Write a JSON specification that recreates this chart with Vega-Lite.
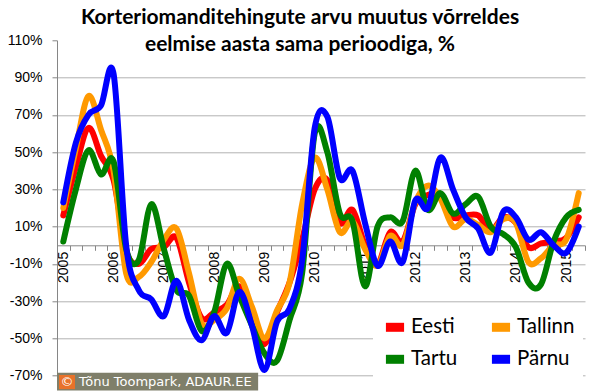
{
  "$schema": "https://vega.github.io/schema/vega-lite/v6.json",
  "width": 528,
  "height": 335.4,
  "autosize": {"type": "none"},
  "padding": {"left": 57, "top": 40.3, "right": 15, "bottom": 16.3},
  "background": "white",
  "title": {
    "text": ["Korteriomanditehingute arvu muutus võrreldes", "eelmise aasta sama perioodiga, %"],
    "font": "Lato",
    "fontSize": 21,
    "fontWeight": "bold",
    "color": "black",
    "anchor": "middle",
    "frame": "group",
    "lineHeight": 27,
    "offset": -22,
    "dx": -21
  },
  "config": {"view": {"stroke": null}},
  "resolve": {"axis": {"x": "independent", "y": "independent"}},
  "datasets": {
    "wide": [
      {"i": 0, "q": "2005 Q1", "Eesti": 16, "Tallinn": 20, "Tartu": 2, "Pärnu": 23},
      {"i": 1, "q": "2005 Q2", "Eesti": 42, "Tallinn": 52, "Tartu": 30, "Pärnu": 55},
      {"i": 2, "q": "2005 Q3", "Eesti": 63, "Tallinn": 80, "Tartu": 51, "Pärnu": 70},
      {"i": 3, "q": "2005 Q4", "Eesti": 48, "Tallinn": 62, "Tartu": 38, "Pärnu": 75},
      {"i": 4, "q": "2006 Q1", "Eesti": 35, "Tallinn": 40, "Tartu": 45, "Pärnu": 92},
      {"i": 5, "q": "2006 Q2", "Eesti": -3, "Tallinn": -15, "Tartu": -2, "Pärnu": 0},
      {"i": 6, "q": "2006 Q3", "Eesti": -10, "Tallinn": -17, "Tartu": -8, "Pärnu": -24},
      {"i": 7, "q": "2006 Q4", "Eesti": -2, "Tallinn": -9, "Tartu": 22, "Pärnu": -29},
      {"i": 8, "q": "2007 Q1", "Eesti": -1, "Tallinn": 3, "Tartu": -2, "Pärnu": -38},
      {"i": 9, "q": "2007 Q2", "Eesti": 4, "Tallinn": 9, "Tartu": -24, "Pärnu": -19},
      {"i": 10, "q": "2007 Q3", "Eesti": -20, "Tallinn": -15, "Tartu": -27, "Pärnu": -40},
      {"i": 11, "q": "2007 Q4", "Eesti": -39, "Tallinn": -42, "Tartu": -46, "Pärnu": -51},
      {"i": 12, "q": "2008 Q1", "Eesti": -36, "Tallinn": -40, "Tartu": -36, "Pärnu": -38},
      {"i": 13, "q": "2008 Q2", "Eesti": -32, "Tallinn": -34, "Tartu": -10, "Pärnu": -47},
      {"i": 14, "q": "2008 Q3", "Eesti": -22, "Tallinn": -18, "Tartu": -27, "Pärnu": -25},
      {"i": 15, "q": "2008 Q4", "Eesti": -40, "Tallinn": -33, "Tartu": -43, "Pärnu": -43},
      {"i": 16, "q": "2009 Q1", "Eesti": -53, "Tallinn": -50, "Tartu": -58, "Pärnu": -67},
      {"i": 17, "q": "2009 Q2", "Eesti": -36, "Tallinn": -35, "Tartu": -62, "Pärnu": -41},
      {"i": 18, "q": "2009 Q3", "Eesti": -20, "Tallinn": -20, "Tartu": -40, "Pärnu": -34},
      {"i": 19, "q": "2009 Q4", "Eesti": 3, "Tallinn": 22, "Tartu": -15, "Pärnu": -8},
      {"i": 20, "q": "2010 Q1", "Eesti": 30, "Tallinn": 47, "Tartu": 60, "Pärnu": 63},
      {"i": 21, "q": "2010 Q2", "Eesti": 35, "Tallinn": 30, "Tartu": 50, "Pärnu": 69},
      {"i": 22, "q": "2010 Q3", "Eesti": 12, "Tallinn": 7, "Tartu": 17, "Pärnu": 36},
      {"i": 23, "q": "2010 Q4", "Eesti": 19, "Tallinn": 13, "Tartu": 13, "Pärnu": 40},
      {"i": 24, "q": "2011 Q1", "Eesti": 0, "Tallinn": -2, "Tartu": -22, "Pärnu": 12},
      {"i": 25, "q": "2011 Q2", "Eesti": -10, "Tallinn": -11, "Tartu": 10, "Pärnu": -11},
      {"i": 26, "q": "2011 Q3", "Eesti": 7, "Tallinn": 5, "Tartu": 15, "Pärnu": 2},
      {"i": 27, "q": "2011 Q4", "Eesti": 2, "Tallinn": 0, "Tartu": 13, "Pärnu": -9},
      {"i": 28, "q": "2012 Q1", "Eesti": 22, "Tallinn": 23, "Tartu": 40, "Pärnu": 24},
      {"i": 29, "q": "2012 Q2", "Eesti": 27, "Tallinn": 32, "Tartu": 19, "Pärnu": 20},
      {"i": 30, "q": "2012 Q3", "Eesti": 27, "Tallinn": 25, "Tartu": 28, "Pärnu": 47},
      {"i": 31, "q": "2012 Q4", "Eesti": 15, "Tallinn": 10, "Tartu": 17, "Pärnu": 30},
      {"i": 32, "q": "2013 Q1", "Eesti": 16, "Tallinn": 14, "Tartu": 22, "Pärnu": 15},
      {"i": 33, "q": "2013 Q2", "Eesti": 16, "Tallinn": 11, "Tartu": 26, "Pärnu": 9},
      {"i": 34, "q": "2013 Q3", "Eesti": 8, "Tallinn": 7, "Tartu": 10, "Pärnu": -4},
      {"i": 35, "q": "2013 Q4", "Eesti": 15, "Tallinn": 14, "Tartu": 6, "Pärnu": 18},
      {"i": 36, "q": "2014 Q1", "Eesti": 12, "Tallinn": 12, "Tartu": -1, "Pärnu": 15},
      {"i": 37, "q": "2014 Q2", "Eesti": -1, "Tallinn": -9, "Tartu": -20, "Pärnu": 3},
      {"i": 38, "q": "2014 Q3", "Eesti": 1, "Tallinn": -7, "Tartu": -21, "Pärnu": 7},
      {"i": 39, "q": "2014 Q4", "Eesti": 2, "Tallinn": 0, "Tartu": 2, "Pärnu": 0},
      {"i": 40, "q": "2015 Q1", "Eesti": 4, "Tallinn": 3, "Tartu": 15, "Pärnu": -4},
      {"i": 41, "q": "2015 Q2", "Eesti": 15, "Tallinn": 28, "Tartu": 19, "Pärnu": 10}
    ],
    "badge": [{"mark": "©", "label": "Tõnu Toompark, ADAUR.EE"}]
  },
  "layer": [
    {
      "data": {"name": "wide"},
      "transform": [{"fold": ["Eesti", "Tallinn", "Tartu", "Pärnu"], "as": ["series", "value"]}],
      "mark": {"type": "line", "interpolate": "cardinal", "strokeWidth": 6, "strokeCap": "round", "strokeJoin": "round"},
      "encoding": {
        "x": {
          "field": "i", "type": "quantitative",
          "scale": {"domain": [-0.5, 41.5], "nice": false, "zero": false},
          "axis": {
            "title": null,
            "orient": "bottom",
            "offset": -130.4,
            "values": [-0.5, 0.5, 1.5, 2.5, 3.5, 4.5, 5.5, 6.5, 7.5, 8.5, 9.5, 10.5, 11.5, 12.5, 13.5, 14.5, 15.5, 16.5, 17.5, 18.5, 19.5, 20.5, 21.5, 22.5, 23.5, 24.5, 25.5, 26.5, 27.5, 28.5, 29.5, 30.5, 31.5, 32.5, 33.5, 34.5, 35.5, 36.5, 37.5, 38.5, 39.5, 40.5, 41.5],
            "tickSize": 5,
            "tickColor": "#868686",
            "domainColor": "#868686",
            "labelExpr": "(datum.value + 0.5) % 4 == 0 && datum.value < 41 ? '' + (2005 + (datum.value + 0.5) / 4) : ''",
            "labelAngle": -90,
            "labelAlign": "right",
            "labelBaseline": "middle",
            "labelOffset": 6.3,
            "labelPadding": 1,
            "labelFont": "Liberation Sans",
            "labelFontSize": 14,
            "labelColor": "black",
            "labelOverlap": false,
            "labelFlush": false,
            "grid": false
          }
        },
        "y": {
          "field": "value", "type": "quantitative",
          "scale": {"domain": [-70, 110], "nice": false, "zero": false},
          "axis": {
            "title": null,
            "orient": "left",
            "values": [-70, -50, -30, -10, 10, 30, 50, 70, 90, 110],
            "labelExpr": "datum.value + '%'",
            "labelFont": "Liberation Sans",
            "labelFontSize": 14,
            "labelColor": "black",
            "labelPadding": 10,
            "labelOverlap": false,
            "labelFlush": false,
            "tickSize": 5,
            "tickColor": "#868686",
            "domainColor": "#868686",
            "grid": true,
            "gridColor": {"condition": {"test": "datum.value === 110", "value": "transparent"}, "value": "#b3b3b3"},
            "gridWidth": 1
          }
        },
        "color": {
          "field": "series", "type": "nominal",
          "scale": {"domain": ["Eesti", "Tallinn", "Tartu", "Pärnu"], "range": ["#ff0000", "#ff9900", "#008000", "#0000ff"]},
          "legend": {
            "title": null,
            "orient": "none",
            "legendX": 316,
            "legendY": 265,
            "direction": "horizontal",
            "columns": 2,
            "symbolType": "stroke",
            "symbolStrokeWidth": 9,
            "symbolSize": 330,
            "labelFont": "Lato",
            "labelFontSize": 20.5,
            "labelColor": "black",
            "labelOffset": 2,
            "fillColor": "white",
            "padding": 8,
            "rowPadding": -6,
            "columnPadding": 15
          }
        }
      }
    },
    {
      "data": {"name": "badge"},
      "mark": {"type": "rect", "color": "#7f7f6a"},
      "encoding": {
        "x": {"datum": -0.5, "axis": null},
        "x2": {"datum": 15.5},
        "y": {"datum": -68.4, "axis": null},
        "y2": {"datum": -78}
      }
    },
    {
      "data": {"name": "badge"},
      "mark": {"type": "rect", "color": "#e8722a"},
      "encoding": {
        "x": {"datum": -0.34, "axis": null},
        "x2": {"datum": 0.93},
        "y": {"datum": -69.6, "axis": null},
        "y2": {"datum": -77.2}
      }
    },
    {
      "data": {"name": "badge"},
      "mark": {"type": "text", "align": "center", "baseline": "middle", "font": "DejaVu Sans", "fontSize": 13, "color": "white"},
      "encoding": {
        "x": {"datum": 0.3, "axis": null},
        "y": {"datum": -73.4, "axis": null},
        "text": {"field": "mark"}
      }
    },
    {
      "data": {"name": "badge"},
      "mark": {"type": "text", "align": "left", "baseline": "middle", "font": "DejaVu Sans", "fontSize": 13, "color": "white"},
      "encoding": {
        "x": {"datum": 1.25, "axis": null},
        "y": {"datum": -73.4, "axis": null},
        "text": {"field": "label"}
      }
    }
  ]
}
